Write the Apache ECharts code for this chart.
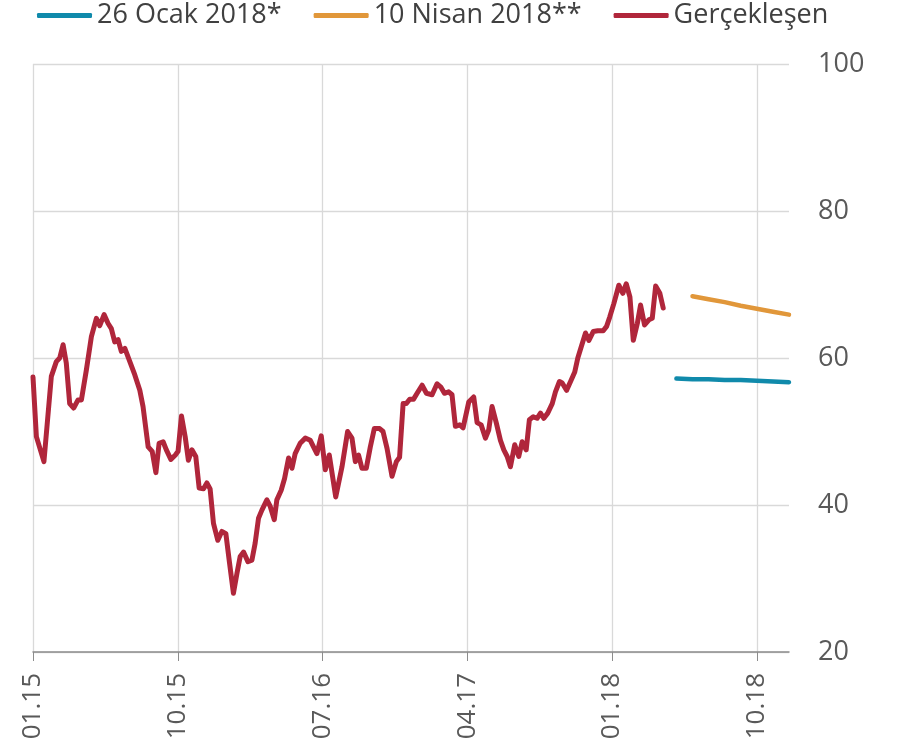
<!DOCTYPE html>
<html>
<head>
<meta charset="utf-8">
<script src="https://cdn.jsdelivr.net/npm/echarts@6/dist/echarts.min.js"></script>
<style>
html,body{margin:0;padding:0;background:#fff;}
#chart{width:900px;height:751px;}
</style>
</head>
<body>
<div id="chart"></div>
<script>
// x values are months since January 2015
const xTickValues = [0, 9, 18, 27, 36, 45];
const xTickLabels = ['01.15', '10.15', '07.16', '04.17', '01.18', '10.18'];
const yTicks = [20, 40, 60, 80, 100];

const seriesNames = ['26 Ocak 2018*', '10 Nisan 2018**', 'Gerçekleşen'];

const ocakMonths = [40, 41, 42, 43, 44, 45, 46, 47];
const ocakValues = [57.2, 57.1, 57.1, 57.0, 57.0, 56.9, 56.8, 56.7];

const nisanMonths = [41, 42, 43, 44, 45, 46, 47];
const nisanValues = [68.4, 68.0, 67.6, 67.1, 66.7, 66.3, 65.9];

const actualMonths = [
  0.00, 0.21, 0.68, 1.14, 1.45, 1.66, 1.87, 2.07, 2.28, 2.53, 2.80, 3.01, 3.32, 3.63, 3.94, 4.15,
  4.42, 4.67, 4.87, 5.08, 5.29, 5.49, 5.71, 6.02, 6.33, 6.64, 6.84, 7.05, 7.16, 7.41, 7.64, 7.84,
  8.09, 8.29, 8.57, 8.85, 9.02, 9.23, 9.46, 9.66, 9.88, 10.12, 10.33, 10.60, 10.81, 11.01, 11.22, 11.49,
  11.74, 11.99, 12.22, 12.46, 12.68, 12.88, 13.09, 13.36, 13.61, 13.81, 14.02, 14.23, 14.54, 14.75, 15.00, 15.16,
  15.43, 15.64, 15.89, 16.10, 16.30, 16.61, 16.93, 17.24, 17.44, 17.65, 17.92, 18.17, 18.42, 18.82, 19.21, 19.56,
  19.83, 20.04, 20.24, 20.45, 20.72, 20.97, 21.22, 21.55, 21.76, 22.01, 22.32, 22.59, 22.79, 23.01, 23.21, 23.42,
  23.66, 23.88, 24.19, 24.46, 24.81, 25.12, 25.37, 25.58, 25.84, 26.05, 26.26, 26.53, 26.74, 27.09, 27.40, 27.61,
  27.86, 28.13, 28.33, 28.54, 28.81, 29.06, 29.27, 29.48, 29.68, 29.95, 30.20, 30.41, 30.66, 30.86, 31.10, 31.34,
  31.55, 31.76, 32.00, 32.28, 32.48, 32.73, 32.90, 33.17, 33.42, 33.68, 33.87, 34.08, 34.35, 34.56, 34.83, 35.11,
  35.45, 35.66, 35.86, 36.11, 36.42, 36.67, 36.88, 37.11, 37.32, 37.57, 37.77, 38.02, 38.29, 38.50, 38.71, 38.97,
  39.18
];
const actualValues = [
  57.4, 49.3, 45.9, 57.5, 59.5, 60.0, 61.8, 59.3, 53.8, 53.2, 54.3, 54.3, 58.4, 62.9, 65.4, 64.4,
  65.9, 64.7, 64.0, 62.2, 62.5, 60.9, 61.3, 59.5, 57.7, 55.6, 53.4, 49.8, 47.9, 47.3, 44.4, 48.4,
  48.6, 47.5, 46.2, 46.8, 47.3, 52.1, 49.3, 46.1, 47.5, 46.6, 42.3, 42.2, 43.0, 42.2, 37.5, 35.2,
  36.4, 36.1, 32.1, 28.0, 30.7, 33.0, 33.6, 32.3, 32.5, 34.8, 38.2, 39.3, 40.7, 39.8, 38.0, 40.7,
  42.0, 43.6, 46.4, 45.0, 47.0, 48.4, 49.1, 48.8, 47.9, 47.0, 49.4, 44.8, 46.8, 41.1, 45.2, 50.0,
  49.1, 45.9, 46.8, 45.0, 45.0, 47.9, 50.4, 50.4, 50.0, 47.7, 43.9, 45.9, 46.5, 53.8, 53.8, 54.4,
  54.4, 55.2, 56.3, 55.2, 55.0, 56.5, 56.0, 55.2, 55.4, 55.0, 50.7, 50.9, 50.5, 54.0, 54.7, 51.2,
  50.9, 49.1, 50.2, 53.4, 51.1, 48.8, 47.5, 46.6, 45.2, 48.2, 46.6, 48.6, 47.5, 51.6, 52.0, 51.8,
  52.5, 51.8, 52.5, 53.8, 55.4, 56.8, 56.6, 55.6, 56.8, 58.1, 60.0, 61.5, 63.4, 62.4, 63.6, 63.7,
  63.7, 64.3, 65.6, 67.4, 69.9, 68.8, 70.1, 68.3, 62.4, 64.7, 67.2, 64.5, 65.2, 65.4, 69.8, 68.8,
  66.8
];

function pairs(xs, ys) { return xs.map((x, i) => [x, ys[i]]); }

const FONT = 'Open Sans';
const chart = echarts.init(document.getElementById('chart'), null, {renderer: 'canvas'});
chart.setOption({
  animation: false,
  backgroundColor: '#ffffff',
  textStyle: {fontFamily: FONT},
  legend: {
    top: 2,
    left: 37,
    padding: 0,
    itemGap: 32,
    itemWidth: 55,
    itemHeight: 5,
    icon: 'roundRect',
    textStyle: {fontFamily: FONT, fontSize: 27, color: '#404040'},
    data: seriesNames
  },
  grid: {left: 33, right: 111, top: 64, bottom: 99, containLabel: false},
  xAxis: {
    type: 'value',
    min: 0,
    max: 47,
    interval: 9,
    axisLine: {show: true, lineStyle: {color: '#8c8c8c', width: 1.5}},
    axisTick: {show: true, length: 9, lineStyle: {color: '#8c8c8c'}, customValues: xTickValues},
    axisLabel: {
      rotate: 90,
      margin: 21,
      fontFamily: FONT,
      fontSize: 26,
      color: '#595959',
      customValues: xTickValues,
      formatter: function (v) {
        const i = xTickValues.indexOf(v);
        return i >= 0 ? xTickLabels[i] : '';
      }
    },
    splitLine: {
      show: true,
      lineStyle: {color: ['#d9d9d9', '#d9d9d9', '#d9d9d9', '#d9d9d9', '#d9d9d9', '#d9d9d9', 'rgba(0,0,0,0)'], width: 1.3}
    }
  },
  yAxis: {
    type: 'value',
    position: 'right',
    min: yTicks[0],
    max: yTicks[yTicks.length - 1],
    interval: 20,
    axisLine: {show: false},
    axisTick: {show: false},
    axisLabel: {margin: 29, fontFamily: FONT, fontSize: 27, color: '#595959'},
    splitLine: {show: true, lineStyle: {color: '#d9d9d9', width: 1.3}}
  },
  series: [
    {
      name: seriesNames[0], type: 'line', symbol: 'none', smooth: false,
      color: '#108aab',
      lineStyle: {width: 4.5, color: '#108aab', cap: 'round'},
      data: pairs(ocakMonths, ocakValues)
    },
    {
      name: seriesNames[1], type: 'line', symbol: 'none', smooth: false,
      color: '#e1973a',
      lineStyle: {width: 4.5, color: '#e1973a', cap: 'round'},
      data: pairs(nisanMonths, nisanValues)
    },
    {
      name: seriesNames[2], type: 'line', symbol: 'none', smooth: false,
      color: '#b0263b',
      lineStyle: {width: 5, color: '#b0263b', cap: 'round', join: 'round'},
      data: pairs(actualMonths, actualValues)
    }
  ]
});
</script>
</body>
</html>
